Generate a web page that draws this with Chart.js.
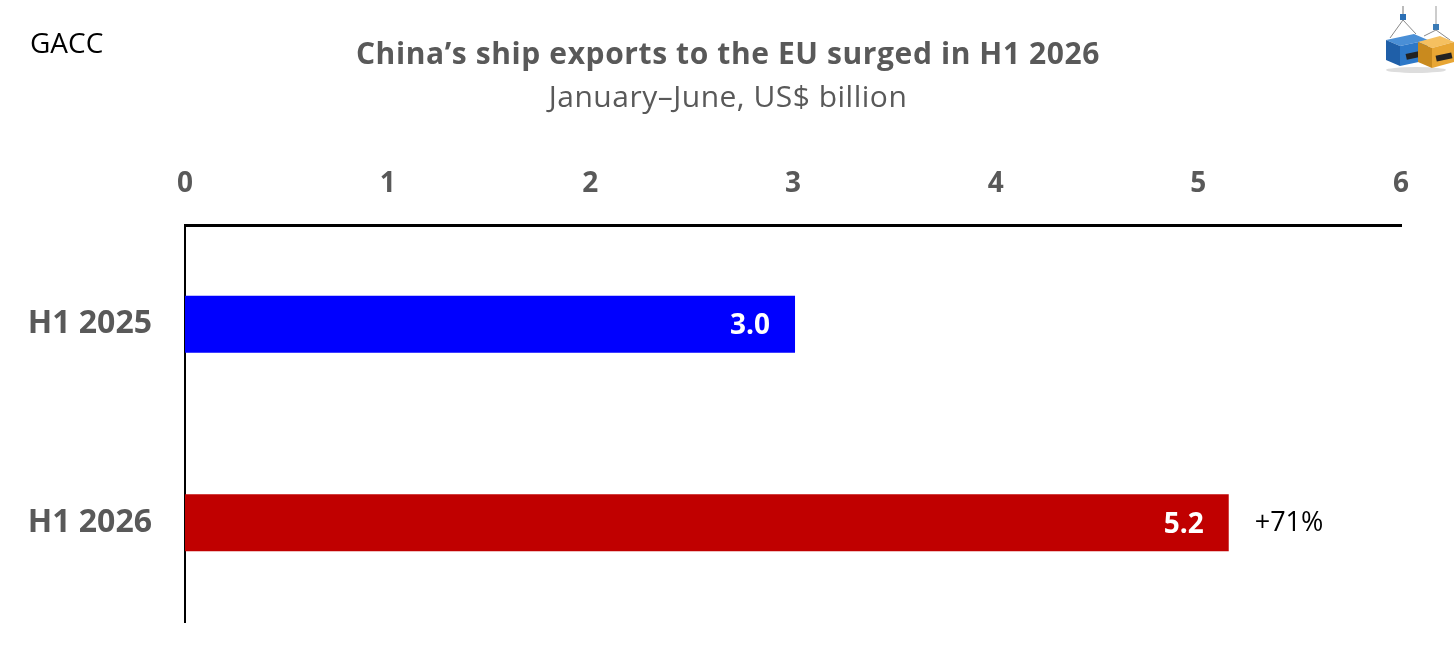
<!DOCTYPE html>
<html>
<head>
<meta charset="utf-8">
<script src="https://cdn.jsdelivr.net/npm/chart.js@4.4.1/dist/chart.umd.min.js"></script>
<style>
  html, body { margin:0; padding:0; background:#fff; width:1456px; height:667px; overflow:hidden; font-family:"Open Sans", "Noto Sans", sans-serif; }
  #wrap { position:absolute; left:0; top:0; width:1456px; height:667px; }
  #src { position:absolute; left:30px; top:23px; font-size:28px; color:#000; }
  #title { position:absolute; left:0; width:1456px; top:32px; text-align:center; font-size:30px; font-weight:700; color:#595959; letter-spacing:0.6px; }
  #sub { position:absolute; left:0; width:1456px; top:75px; text-align:center; font-size:30px; color:#595959; letter-spacing:0.5px; }
  #logo { position:absolute; left:1378px; top:4px; }
</style>
</head>
<body>
<div id="wrap">
  <canvas id="c" width="1456" height="667"></canvas>
  <div id="src">GACC</div>
  <div id="title">China’s ship exports to the EU surged in H1 2026</div>
  <div id="sub">January–June, US$ billion</div>
  <svg id="logo" width="76" height="70" viewBox="0 0 76 70">
    <line x1="25" y1="2" x2="25" y2="16" stroke="#bbb" stroke-width="2"/>
    <line x1="58" y1="2" x2="58" y2="22" stroke="#ccc" stroke-width="2"/>
    <rect x="22" y="10" width="6" height="6" fill="#2b6fb5"/>
    <rect x="55" y="20" width="6" height="6" fill="#3a7ab5"/>
    <line x1="25" y1="16" x2="12" y2="34" stroke="#888" stroke-width="1"/>
    <line x1="25" y1="16" x2="38" y2="30" stroke="#888" stroke-width="1"/>
    <line x1="58" y1="26" x2="46" y2="32" stroke="#888" stroke-width="1"/>
    <line x1="58" y1="26" x2="72" y2="36" stroke="#888" stroke-width="1"/>
    <ellipse cx="38" cy="66" rx="30" ry="3" fill="#ddd"/>
    <polygon points="8,36 36,30 50,36 22,42" fill="#4a8fd6"/>
    <polygon points="8,36 22,42 22,62 8,56" fill="#1f5fa8"/>
    <polygon points="22,42 50,36 50,56 22,62" fill="#2d78c8"/>
    <rect x="28" y="48" width="18" height="6" fill="#222" transform="rotate(-12 37 51)"/>
    <polygon points="40,38 62,32 76,38 54,44" fill="#f5c060"/>
    <polygon points="40,38 54,44 54,64 40,58" fill="#c98a1e"/>
    <polygon points="54,44 76,38 76,58 54,64" fill="#e8a634"/>
    <rect x="58" y="50" width="16" height="6" fill="#222" transform="rotate(-12 66 53)"/>
  </svg>
</div>
<script>
const categories = ["H1 2025", "H1 2026"];
const values = [3.01, 5.15];
const valueLabels = ["3.0", "5.2"];
const changeLabels = ["", "+71%"];
const barColors = ["#0000FF", "#C00000"];
const xTicks = [0, 1, 2, 3, 4, 5, 6];

const FONT = '"Open Sans", "Noto Sans", sans-serif';

const labelPlugin = {
  id: 'barLabels',
  afterDatasetsDraw(chart) {
    const ctx = chart.ctx;
    const meta = chart.getDatasetMeta(0);
    ctx.save();
    meta.data.forEach((bar, i) => {
      ctx.textBaseline = 'middle';
      ctx.font = '700 28px ' + FONT;
      ctx.fillStyle = '#ffffff';
      ctx.textAlign = 'right';
      ctx.fillText(valueLabels[i], bar.x - 25, bar.y + 2);
      if (changeLabels[i]) {
        ctx.font = '400 27px ' + FONT;
        ctx.fillStyle = '#000000';
        ctx.textAlign = 'left';
        ctx.fillText(changeLabels[i], bar.x + 26, bar.y + 1);
      }
    });
    ctx.restore();
  }
};

new Chart(document.getElementById('c'), {
  type: 'bar',
  data: {
    labels: categories,
    datasets: [{
      data: values,
      backgroundColor: barColors,
      borderWidth: 0,
      barPercentage: 0.287,
      categoryPercentage: 1.0
    }]
  },
  options: {
    indexAxis: 'y',
    responsive: false,
    animation: false,
    devicePixelRatio: 1,
    layout: { padding: { left: 0, top: 0, right: 55, bottom: 45 } },
    plugins: { legend: { display: false }, tooltip: { enabled: false } },
    scales: {
      x: {
        position: 'top',
        min: 0, max: 6,
        afterBuildTicks(scale) { scale.ticks = xTicks.map(v => ({ value: v })); },
        afterFit(scale) { scale.height = 225; },
        grid: { display: false, drawTicks: false },
        border: { display: true, color: '#000', width: 3 },
        ticks: {
          padding: 24,
          color: '#595959',
          font: { family: FONT, size: 28, weight: '700' },
          maxRotation: 0
        }
      },
      y: {
        afterFit(scale) { scale.width = 185; scale.paddingTop = 0; scale.paddingBottom = 0; },
        grid: { display: false, drawTicks: false },
        border: { display: true, color: '#000', width: 2 },
        ticks: {
          padding: 33,
          color: '#595959',
          font: { family: FONT, size: 32, weight: '700' }
        }
      }
    }
  },
  plugins: [labelPlugin]
});
</script>
</body>
</html>
